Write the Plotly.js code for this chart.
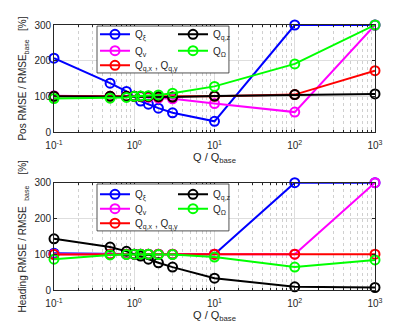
<!DOCTYPE html>
<html>
<head>
<meta charset="utf-8">
<script src="https://cdn.plot.ly/plotly-3.0.1.min.js"></script>
<style>
  body { margin: 0; background: #fff; }
  #plot { width: 415px; height: 332px; }
</style>
</head>
<body>
<div id="plot"></div>
<script>
// Q / Q_base values
var qRatio = [0.1, 0.5, 0.8, 1, 1.2, 1.5, 2, 3, 10, 100, 1000];

// position RMSE / RMSE_base [%]
var posXi    = [207, 137, 114, 100, 87, 78, 67, 54, 30, 300, 300];
var posV     = [102, 100, 100, 100, 99, 97, 95, 93, 80, 56, 300];
var posQxy   = [100, 100, 100, 100, 100, 99, 98, 98, 100, 105, 172];
var posQz    = [100, 100, 100, 100, 100, 100, 99, 98, 101, 105, 107];
var posOmega = [94, 95, 97, 100, 101, 102, 104, 109, 128, 191, 300];

// heading RMSE / RMSE_base [%]
var headXi    = [103, 100, 100, 100, 100, 100, 100, 100, 100, 300, 300];
var headV     = [100, 100, 100, 100, 100, 100, 100, 100, 100, 100, 300];
var headQxy   = [99, 100, 100, 100, 100, 100, 100, 100, 100, 100, 100];
var headQz    = [143, 120, 108, 100, 95, 86, 76, 64, 33, 9, 7];
var headOmega = [86, 98, 99, 100, 100, 100, 99, 99, 92, 64, 84];

var names = ['Q<sub>ξ</sub>', 'Q<sub>v</sub>', 'Q<sub>q,x</sub> , Q<sub>q,y</sub>',
             'Q<sub>q,z</sub>', 'Q<sub>Ω</sub>'];
var colors = ['#0000ff', '#ff00ff', '#ff0000', '#000000', '#00ff00'];

var tickVals = [0.1, 1, 10, 100, 1000];
var tickText = ['10<sup>-1</sup>', '10<sup>0</sup>', '10<sup>1</sup>', '10<sup>2</sup>', '10<sup>3</sup>'];

var font = 'Liberation Sans, Arial, sans-serif';
var axCol = '#262626';

function mk(y, i, xa, ya, leg) {
  return {
    x: qRatio, y: y, name: names[i],
    xaxis: xa, yaxis: ya, legend: leg,
    type: 'scatter', mode: 'lines+markers', cliponaxis: false,
    line: {color: colors[i], width: 2},
    marker: {symbol: 'circle-open', size: 9, color: colors[i], line: {width: 2, color: colors[i]}}
  };
}

var data = [
  mk(posXi, 0, 'x', 'y', 'legend'),
  mk(posV, 1, 'x', 'y', 'legend2'),
  mk(posQxy, 2, 'x', 'y', 'legend3'),
  mk(posQz, 3, 'x', 'y', 'legend4'),
  mk(posOmega, 4, 'x', 'y', 'legend5'),
  mk(headXi, 0, 'x2', 'y2', 'legend6'),
  mk(headV, 1, 'x2', 'y2', 'legend7'),
  mk(headQxy, 2, 'x2', 'y2', 'legend8'),
  mk(headQz, 3, 'x2', 'y2', 'legend9'),
  mk(headOmega, 4, 'x2', 'y2', 'legend10')
];

function xax(anchor) {
  return {
    type: 'log', range: [-1, 3], anchor: anchor,
    tickvals: tickVals, ticktext: tickText,
    ticks: 'inside', ticklen: 3, tickcolor: axCol, ticklabelstandoff: 4,
    showline: true, linecolor: axCol, linewidth: 0.8, mirror: 'ticks',
    showgrid: true, gridcolor: '#dedede', gridwidth: 0.7,
    zeroline: false, automargin: false,
    tickfont: {family: font, size: 10, color: axCol},
    minor: {dtick: 'D1', ticks: 'inside', ticklen: 2, tickcolor: axCol,
            showgrid: true, gridcolor: '#d0d0d0', griddash: 'dot', gridwidth: 0.6},
    title: {text: 'Q / Q<sub>base</sub>', font: {family: font, size: 11, color: axCol}, standoff: 1}
  };
}

function yax(domain, anchor, title) {
  return {
    range: [0, 300], domain: domain, anchor: anchor,
    tickvals: [0, 100, 200, 300],
    ticks: 'inside', ticklen: 3, tickcolor: axCol,
    showline: true, linecolor: axCol, linewidth: 0.8, mirror: 'ticks',
    showgrid: true, gridcolor: '#dedede', gridwidth: 0.7,
    zeroline: false, automargin: false,
    tickfont: {family: font, size: 10, color: axCol},
    title: {text: title, font: {family: font, size: 10, color: axCol}, standoff: 5}
  };
}

function leg(x, y) {
  return {x: x, y: y, xanchor: 'left', yanchor: 'middle',
          bgcolor: 'rgba(0,0,0,0)', borderwidth: 0,
          font: {family: font, size: 10, color: axCol}};
}

var c1 = 0.1277, c2 = 0.3707;

var layout = {
  width: 415, height: 332,
  margin: {l: 54, r: 40, t: 25, b: 42},
  paper_bgcolor: '#fff', plot_bgcolor: '#fff',
  showlegend: true,
  xaxis: xax('y'),
  yaxis: yax([0.596, 1], 'x', 'Pos RMSE / RMSE<sub>base</sub>&nbsp;&nbsp;&nbsp;[%]'),
  xaxis2: xax('y2'),
  yaxis2: yax([0, 0.405], 'x2', 'Heading RMSE / RMSE&nbsp;&nbsp;<sub>base</sub>&nbsp;&nbsp;&nbsp;&nbsp;[%]'),
  legend: leg(c1, 0.965), legend2: leg(c1, 0.903), legend3: leg(c1, 0.848),
  legend4: leg(c2, 0.965), legend5: leg(c2, 0.903),
  legend6: leg(c1, 0.361), legend7: leg(c1, 0.307), legend8: leg(c1, 0.252),
  legend9: leg(c2, 0.361), legend10: leg(c2, 0.307),
  shapes: [
    {type: 'rect', xref: 'paper', yref: 'paper', x0: 0.134, x1: 0.545, y0: 0.819, y1: 0.996,
     fillcolor: '#fff', line: {color: axCol, width: 0.8}, layer: 'above'},
    {type: 'rect', xref: 'paper', yref: 'paper', x0: 0.134, x1: 0.545, y0: 0.223, y1: 0.4,
     fillcolor: '#fff', line: {color: axCol, width: 0.8}, layer: 'above'}
  ]
};

Plotly.newPlot('plot', data, layout, {displayModeBar: false});
</script>
</body>
</html>
